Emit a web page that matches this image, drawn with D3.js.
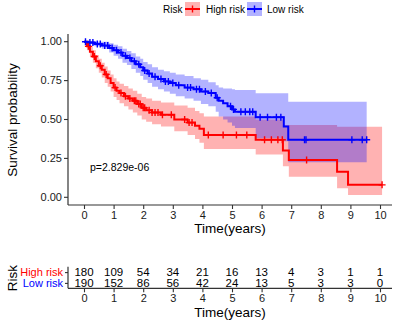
<!DOCTYPE html>
<html>
<head>
<meta charset="utf-8">
<script src="https://cdn.jsdelivr.net/npm/d3@7"></script>
<style>
  body { margin: 0; background: #fff; }
  text { font-family: "Liberation Sans", Arial, sans-serif; }
</style>
</head>
<body>
<div id="chart"></div>
<script>
// strata
var groups = ["High risk", "Low risk"];
var groupColors = ["#FF0000", "#0000FF"];

// High risk: step times, survival after each step, CI bounds, censor times
var highTimes = [0, 0.1, 0.2, 0.3, 0.4, 0.5, 0.6, 0.7, 0.8, 0.9, 1.0, 1.1, 1.2, 1.35, 1.5, 1.65, 1.8, 1.95, 2.1, 2.3, 2.6, 3.05, 3.5, 3.75, 3.9, 4.05, 5.8, 6.72, 6.92, 8.55, 8.92];
var highSurv = [1.0, 0.97, 0.935, 0.905, 0.875, 0.845, 0.82, 0.79, 0.765, 0.735, 0.705, 0.685, 0.67, 0.65, 0.635, 0.62, 0.6, 0.575, 0.56, 0.545, 0.53, 0.5, 0.48, 0.46, 0.44, 0.4, 0.37, 0.3, 0.24, 0.165, 0.08];
var highUpper = [1.0, 1.0, 0.97, 0.945, 0.915, 0.89, 0.865, 0.84, 0.815, 0.79, 0.765, 0.745, 0.73, 0.715, 0.7, 0.685, 0.665, 0.645, 0.635, 0.62, 0.61, 0.59, 0.575, 0.555, 0.54, 0.52, 0.5, 0.465, 0.465, 0.454, 0.454];
var highLower = [1.0, 0.945, 0.9, 0.865, 0.83, 0.8, 0.77, 0.735, 0.71, 0.68, 0.645, 0.625, 0.605, 0.585, 0.565, 0.545, 0.525, 0.5, 0.485, 0.47, 0.455, 0.425, 0.4, 0.375, 0.35, 0.31, 0.275, 0.2, 0.132, 0.058, 0.015];
var highCensor = [0.15, 0.35, 0.55, 0.75, 1.05, 1.25, 1.4, 1.55, 1.7, 1.75, 1.85, 1.9, 2.0, 2.05, 2.2, 2.3, 2.4, 2.5, 2.65, 2.95, 3.4, 3.55, 3.65, 4.2, 4.7, 5.15, 5.5, 6.1, 6.33, 6.55, 6.7, 7.52, 10.07];
var highEnd = 10.07;

// Low risk
var lowTimes = [0, 0.15, 0.35, 0.6, 0.85, 1.0, 1.15, 1.3, 1.45, 1.6, 1.75, 1.9, 2.0, 2.15, 2.3, 2.5, 2.7, 2.9, 3.1, 3.4, 3.7, 3.95, 4.2, 4.45, 4.55, 4.7, 4.85, 5.0, 5.1, 5.8, 6.75, 6.9];
var lowSurv = [1.0, 0.995, 0.985, 0.975, 0.96, 0.945, 0.93, 0.91, 0.895, 0.875, 0.855, 0.835, 0.815, 0.795, 0.775, 0.76, 0.745, 0.735, 0.72, 0.705, 0.695, 0.68, 0.67, 0.64, 0.62, 0.605, 0.585, 0.565, 0.55, 0.515, 0.455, 0.37];
var lowUpper = [1.0, 1.0, 1.0, 1.0, 0.99, 0.98, 0.97, 0.955, 0.94, 0.925, 0.905, 0.89, 0.87, 0.855, 0.835, 0.82, 0.81, 0.8, 0.79, 0.78, 0.765, 0.755, 0.74, 0.72, 0.705, 0.7, 0.7, 0.695, 0.69, 0.668, 0.668, 0.614];
var lowLower = [1.0, 0.985, 0.97, 0.955, 0.93, 0.91, 0.89, 0.865, 0.85, 0.825, 0.8, 0.78, 0.755, 0.735, 0.71, 0.695, 0.68, 0.665, 0.65, 0.635, 0.62, 0.6, 0.585, 0.55, 0.52, 0.5, 0.48, 0.46, 0.445, 0.38, 0.36, 0.225];
var lowCensor = [0.05, 0.2, 0.3, 0.45, 0.55, 0.7, 0.8, 0.95, 1.1, 1.25, 1.4, 1.55, 1.7, 1.85, 2.05, 2.2, 2.4, 2.6, 2.75, 2.85, 3.0, 3.2, 3.5, 3.6, 3.8, 3.9, 4.1, 4.3, 4.5, 4.95, 5.05, 5.3, 5.45, 5.6, 5.7, 5.95, 6.2, 6.5, 6.65, 7.45, 7.5, 9.05, 9.4, 9.55];
var lowEnd = 9.55;

// axes and risk table
var timeTicks = [0, 1, 2, 3, 4, 5, 6, 7, 8, 9, 10];
var survTicks = [0, 0.25, 0.5, 0.75, 1];
var highAtRisk = [180, 109, 54, 34, 21, 16, 13, 4, 3, 1, 1];
var lowAtRisk = [190, 152, 86, 56, 42, 24, 13, 5, 3, 3, 0];
var pLabel = "p=2.829e-06";

var W = 396, H = 325;
var svg = d3.select("#chart").append("svg").attr("width", W).attr("height", H);

var x = d3.scaleLinear().domain([0, 10]).range([84, 380]);
var y = d3.scaleLinear().domain([0, 1]).range([197.3, 41.7]);
var axisColor = "#333";
var panelLeft = 68, panelRight = 392;

function buildSeries(times, surv, upper, lower, end) {
  var pts = times.map(function (t, i) {
    return { t: t, s: surv[i], hi: upper[i], lo: lower[i] };
  });
  var last = pts[pts.length - 1];
  pts.push({ t: end, s: last.s, hi: last.hi, lo: last.lo });
  return pts;
}
function survAt(times, surv, t) {
  var i = d3.bisectRight(times, t) - 1;
  return surv[Math.max(i, 0)];
}

var series = [
  { name: groups[0], color: groupColors[0], pts: buildSeries(highTimes, highSurv, highUpper, highLower, highEnd),
    censor: highCensor.map(function (c) { return { t: c, s: survAt(highTimes, highSurv, c) }; }) },
  { name: groups[1], color: groupColors[1], pts: buildSeries(lowTimes, lowSurv, lowUpper, lowLower, lowEnd),
    censor: lowCensor.map(function (c) { return { t: c, s: survAt(lowTimes, lowSurv, c) }; }) }
];

var area = d3.area().curve(d3.curveStepAfter)
  .x(function (d) { return x(d.t); })
  .y0(function (d) { return y(d.lo); })
  .y1(function (d) { return y(d.hi); });
var line = d3.line().curve(d3.curveStepAfter)
  .x(function (d) { return x(d.t); })
  .y(function (d) { return y(d.s); });

// confidence bands
svg.selectAll(".band").data(series).enter().append("path")
  .attr("class", "band")
  .attr("d", function (d) { return area(d.pts); })
  .attr("fill", function (d) { return d.color; })
  .attr("fill-opacity", 0.3);

// survival curves
svg.selectAll(".curve").data(series).enter().append("path")
  .attr("class", "curve")
  .attr("d", function (d) { return line(d.pts); })
  .attr("fill", "none")
  .attr("stroke", function (d) { return d.color; })
  .attr("stroke-width", 2);

// censor marks
var cs = 3.5;
series.forEach(function (sr) {
  svg.append("g").selectAll("path").data(sr.censor).enter().append("path")
    .attr("d", function (d) {
      var cx = x(d.t), cy = y(d.s);
      return "M" + (cx - cs) + "," + cy + "H" + (cx + cs) + "M" + cx + "," + (cy - cs) + "V" + (cy + cs);
    })
    .attr("stroke", sr.color)
    .attr("stroke-width", 1.4);
});

// main axes
var gx = svg.append("g").attr("transform", "translate(0,205)")
  .call(d3.axisBottom(x).tickValues(timeTicks).tickSize(4).tickPadding(2).tickSizeOuter(0));
var gy = svg.append("g").attr("transform", "translate(" + panelLeft + ",0)")
  .call(d3.axisLeft(y).tickValues(survTicks).tickFormat(d3.format(".2f")).tickSize(4).tickPadding(2).tickSizeOuter(0));
gx.attr("transform", "translate(0,205)");
gy.selectAll(".tick").attr("transform", function (d) { return "translate(0," + y(d) + ")"; });

[gx, gy].forEach(function (g) {
  g.select(".domain").remove();
  g.selectAll(".tick line").attr("stroke", axisColor).attr("stroke-width", 1.1);
  g.selectAll(".tick text").attr("fill", "#1a1a1a").style("font-size", "11px")
    .style("font-family", "'Liberation Sans', Arial, sans-serif");
});
svg.append("line").attr("x1", panelLeft).attr("x2", panelRight).attr("y1", 205).attr("y2", 205)
  .attr("stroke", axisColor).attr("stroke-width", 1.2);
svg.append("line").attr("x1", panelLeft).attr("x2", panelLeft).attr("y1", 33.9).attr("y2", 205)
  .attr("stroke", axisColor).attr("stroke-width", 1.2);

svg.append("text").attr("x", 230).attr("y", 233).attr("text-anchor", "middle")
  .style("font-size", "13.5px").text("Time(years)");
svg.append("text").attr("transform", "translate(17,120) rotate(-90)").attr("text-anchor", "middle")
  .style("font-size", "13.5px").text("Survival probability");
svg.append("text").attr("x", 90).attr("y", 170.5).style("font-size", "10.5px").text(pLabel);

// legend
var legend = svg.append("g");
legend.append("text").attr("x", 163).attr("y", 13).style("font-size", "10px").text("Risk");
var legX = [185, 247];
var legTx = [206, 267];
series.forEach(function (sr, i) {
  legend.append("rect").attr("x", legX[i]).attr("y", 2).attr("width", 15).attr("height", 14)
    .attr("fill", sr.color).attr("fill-opacity", 0.3);
  legend.append("line").attr("x1", legX[i]).attr("x2", legX[i] + 15).attr("y1", 9).attr("y2", 9)
    .attr("stroke", sr.color).attr("stroke-width", 2);
  legend.append("path").attr("d", "M" + (legX[i] + 7.5) + ",5.5V12.5")
    .attr("stroke", sr.color).attr("stroke-width", 1.4);
  legend.append("text").attr("x", legTx[i]).attr("y", 13).style("font-size", "10px").text(sr.name);
});

// risk table
var yT = d3.scalePoint().domain(groups).range([266.7, 288.3]).padding(0.5);
var tableData = [highAtRisk, lowAtRisk];
tableData.forEach(function (row, gi) {
  svg.append("g").selectAll("text").data(row).enter().append("text")
    .attr("x", function (d, i) { return x(timeTicks[i]); })
    .attr("y", yT(groups[gi]) + 4)
    .attr("text-anchor", "middle")
    .style("font-size", "11.5px")
    .text(function (d) { return d; });
});
var gTy = svg.append("g").attr("transform", "translate(" + panelLeft + ",0)")
  .call(d3.axisLeft(yT).tickSize(3).tickPadding(2).tickSizeOuter(0));
gTy.select(".domain").remove();
gTy.selectAll(".tick line").attr("stroke", axisColor).attr("stroke-width", 1.1);
gTy.selectAll(".tick text").style("font-size", "11px")
  .style("font-family", "'Liberation Sans', Arial, sans-serif")
  .attr("fill", function (d, i) { return groupColors[i]; });
svg.append("line").attr("x1", panelLeft).attr("x2", panelLeft).attr("y1", 266.7).attr("y2", 288.3)
  .attr("stroke", axisColor).attr("stroke-width", 1.2);

var gTx = svg.append("g").attr("transform", "translate(0,288.3)")
  .call(d3.axisBottom(x).tickValues(timeTicks).tickSize(4).tickPadding(2).tickSizeOuter(0));
gTx.select(".domain").remove();
gTx.selectAll(".tick line").attr("stroke", axisColor).attr("stroke-width", 1.1);
gTx.selectAll(".tick text").attr("fill", "#1a1a1a").style("font-size", "11px")
  .style("font-family", "'Liberation Sans', Arial, sans-serif");
svg.append("line").attr("x1", panelLeft).attr("x2", panelRight).attr("y1", 288.3).attr("y2", 288.3)
  .attr("stroke", axisColor).attr("stroke-width", 1.2);

svg.append("text").attr("x", 230).attr("y", 317).attr("text-anchor", "middle")
  .style("font-size", "13.5px").text("Time(years)");
svg.append("text").attr("transform", "translate(17,278) rotate(-90)").attr("text-anchor", "middle")
  .style("font-size", "13.5px").text("Risk");
</script>
</body>
</html>
